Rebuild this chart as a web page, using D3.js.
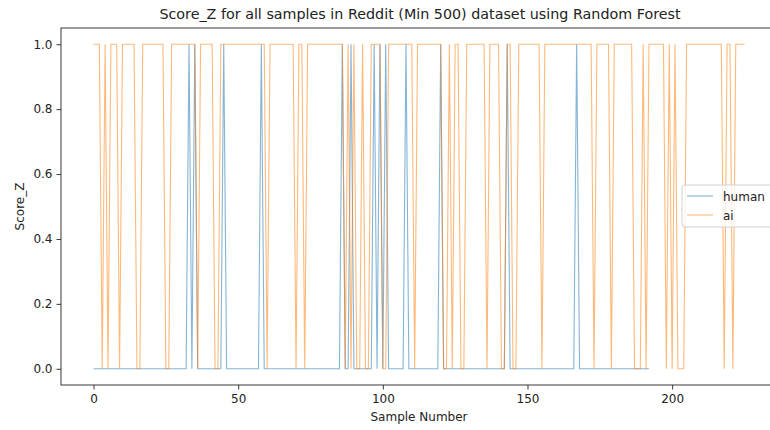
<!DOCTYPE html>
<html>
<head>
<meta charset="utf-8">
<script src="https://cdn.jsdelivr.net/npm/d3@7"></script>
<style>
  body { margin: 0; background: #fff; overflow: hidden; }
  svg { font-family: "DejaVu Sans", sans-serif; }
</style>
</head>
<body>
<script>
// Score_Z per sample
const human = [
  0,0,0,0,0,0,0,0,0,0, 0,0,0,0,0,0,0,0,0,0, 0,0,0,0,0,0,0,0,0,0,
  0,0,0,1,0,1,0,0,0,0, 0,0,0,0,0,1,0,0,0,0, 0,0,0,0,0,0,0,0,1,0,
  0,0,0,0,0,0,0,0,0,0, 0,0,0,0,0,0,0,0,0,0, 0,0,0,0,0,0,1,0,0,1,
  0,0,0,0,0,0,0,1,0,1, 0,1,0,0,0,0,0,0,1,0, 0,0,0,0,0,0,0,0,0,0,
  1,0,0,0,0,0,0,0,0,0, 0,0,0,0,0,0,0,0,0,0, 0,0,0,1,0,0,0,0,0,0,
  0,0,0,0,0,0,0,0,0,0, 0,0,0,0,0,0,0,1,0,0, 0,0,0,0,0,0,0,0,0,0,
  0,0,0,0,0,0,0,0,0,0, 0,0,0
];
const ai = [
  1,1,1,0,1,0,1,1,1,0, 1,1,1,1,1,0,0,1,1,1, 1,1,1,1,1,0,0,1,1,1,
  1,1,1,1,1,1,0,1,1,1, 1,1,0,0,1,1,1,1,1,1, 1,1,1,1,1,1,1,1,1,1,
  0,1,1,1,1,1,1,1,1,1, 0,1,1,0,1,1,1,1,1,1, 1,1,1,1,1,1,1,0,1,0,
  1,0,0,1,0,0,1,1,1,1, 0,0,1,1,1,1,1,1,1,1, 1,0,1,1,1,1,1,1,1,1,
  1,0,0,1,0,1,1,0,0,1, 1,1,1,1,1,1,0,1,1,1, 1,0,0,1,1,0,0,1,1,1,
  1,1,1,1,1,0,1,1,1,1, 1,1,1,1,1,1,1,1,1,1, 1,1,1,0,1,1,1,1,1,0,
  1,1,1,1,1,1,1,0,0,0, 1,0,1,1,1,1,1,1,0,1, 0,1,0,0,0,1,1,1,1,1,
  1,1,1,1,1,1,1,1,0,1, 1,0,1,1,1,1
];
const xTicks = [0, 50, 100, 150, 200];
const yTicks = [0, 0.2, 0.4, 0.6, 0.8, 1.0];

const width = 770;
const height = 430;
const plot = { left: 61, top: 28, bottom: 385, right: 777 };

const svg = d3.select("body")
  .append("svg")
  .attr("width", width)
  .attr("height", height);

// matplotlib-style 5% margins
const xMax = ai.length - 1;
const xPad = xMax * 0.05;
const xScale = d3.scaleLinear()
  .domain([-xPad, xMax + xPad])
  .range([plot.left, plot.right]);

const yScale = d3.scaleLinear()
  .domain([-0.05, 1.05])
  .range([plot.bottom, plot.top]);

const xAxis = d3.axisBottom(xScale)
  .tickValues(xTicks)
  .tickSize(4.5)
  .tickPadding(5)
  .tickFormat(d3.format("d"));

const yAxis = d3.axisLeft(yScale)
  .tickValues(yTicks)
  .tickSize(4.5)
  .tickPadding(4)
  .tickFormat(d3.format(".1f"));

const gx = svg.append("g")
  .attr("transform", `translate(0, ${plot.bottom})`)
  .call(xAxis);

const gy = svg.append("g")
  .attr("transform", `translate(${plot.left}, 0)`)
  .call(yAxis);

[gx, gy].forEach((g) => {
  g.select(".domain").remove();
  g.selectAll(".tick line").attr("stroke", "#222").attr("stroke-width", 0.9);
  g.selectAll(".tick text")
    .attr("fill", "#222")
    .style("font-size", "12px")
    .style("font-family", "DejaVu Sans, sans-serif");
});

// spines
svg.append("rect")
  .attr("x", plot.left)
  .attr("y", plot.top)
  .attr("width", plot.right - plot.left)
  .attr("height", plot.bottom - plot.top)
  .attr("fill", "none")
  .attr("stroke", "#222")
  .attr("stroke-width", 0.9);

const line = d3.line()
  .x((d, i) => xScale(i))
  .y((d) => yScale(d));

svg.append("path")
  .datum(human)
  .attr("d", line)
  .attr("fill", "none")
  .attr("stroke", "#1f77b4")
  .attr("stroke-opacity", 0.55)
  .attr("stroke-width", 1.1);

svg.append("path")
  .datum(ai)
  .attr("d", line)
  .attr("fill", "none")
  .attr("stroke", "#ff7f0e")
  .attr("stroke-opacity", 0.55)
  .attr("stroke-width", 1.1);

// title and labels
svg.append("text")
  .attr("x", (plot.left + plot.right) / 2 + 1)
  .attr("y", 19)
  .attr("text-anchor", "middle")
  .style("font-size", "14.3px")
  .attr("fill", "#222")
  .text("Score_Z for all samples in Reddit (Min 500) dataset using Random Forest");

svg.append("text")
  .attr("x", (plot.left + plot.right) / 2)
  .attr("y", 421)
  .attr("text-anchor", "middle")
  .style("font-size", "12px")
  .attr("fill", "#222")
  .text("Sample Number");

svg.append("text")
  .attr("transform", `translate(24, ${(plot.top + plot.bottom) / 2}) rotate(-90)`)
  .attr("text-anchor", "middle")
  .style("font-size", "12px")
  .attr("fill", "#222")
  .text("Score_Z");

// legend
const legend = svg.append("g").attr("transform", "translate(682, 185)");
legend.append("rect")
  .attr("width", 100)
  .attr("height", 42)
  .attr("rx", 3)
  .attr("fill", "#fff")
  .attr("fill-opacity", 0.8)
  .attr("stroke", "#ccc")
  .attr("stroke-width", 0.9);

const entries = [
  { name: "human", color: "#1f77b4" },
  { name: "ai", color: "#ff7f0e" }
];
entries.forEach((e, i) => {
  const y = 11 + i * 19;
  legend.append("line")
    .attr("x1", 5).attr("x2", 31)
    .attr("y1", y).attr("y2", y)
    .attr("stroke", e.color)
    .attr("stroke-opacity", 0.55)
    .attr("stroke-width", 1.1);
  legend.append("text")
    .attr("x", 41)
    .attr("y", y + 4.5)
    .style("font-size", "12px")
    .attr("fill", "#222")
    .text(e.name);
});
</script>
</body>
</html>
